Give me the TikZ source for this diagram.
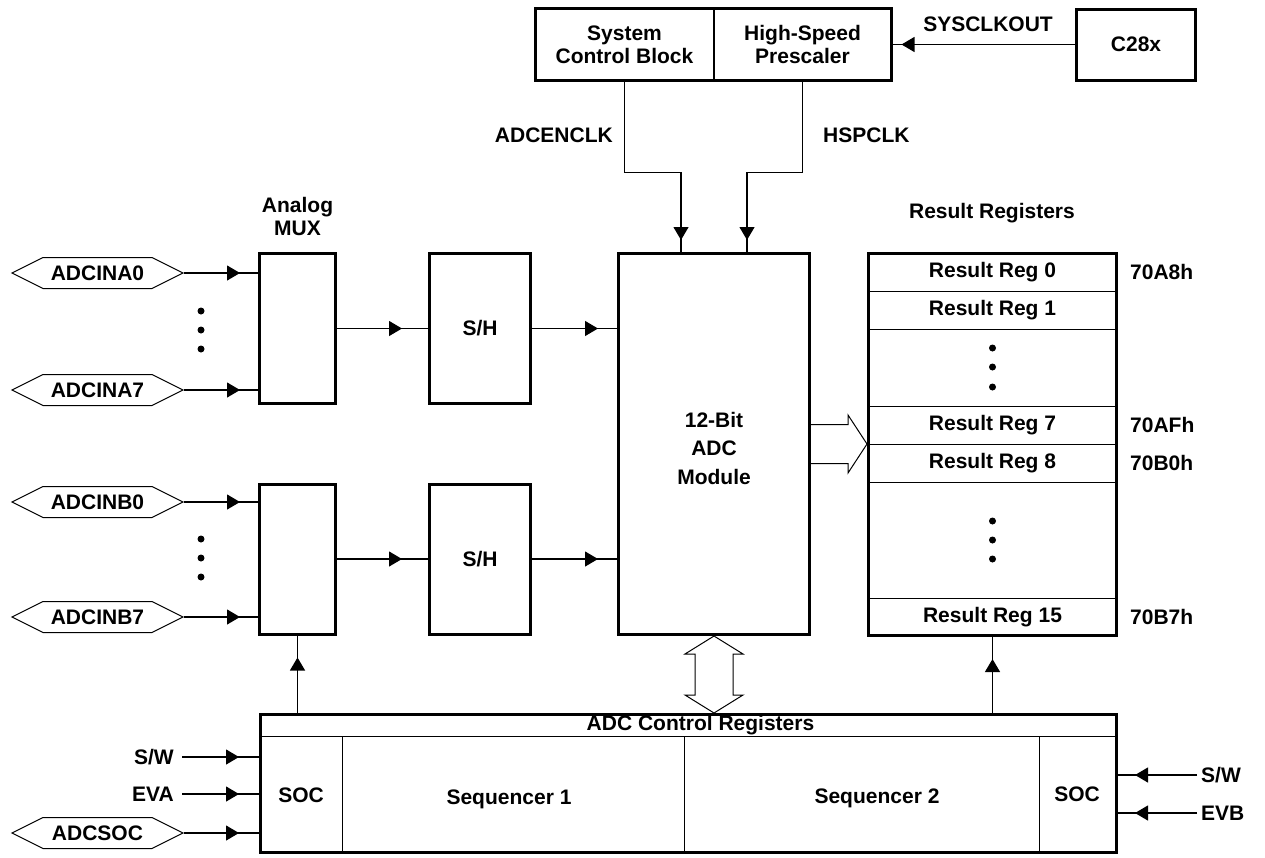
\documentclass[tikz,border=0pt]{standalone}
\usepackage{fontspec}
\setmainfont{Liberation Sans}
\usepackage{tikz}
\usetikzlibrary{positioning, calc, arrows.meta, shapes.symbols, decorations.markings}

\begin{document}
\begin{tikzpicture}[x=1pt, y=1pt,
		every node/.style={font=\fontsize{21}{23}\selectfont\bfseries},
		box/.style={draw, line width=3pt, inner sep=0pt},
		cell/.style={draw, line width=1pt, inner sep=0pt},
		hexpin/.style={draw, line width=1pt, signal, signal to=west and east, signal pointer angle=53, minimum width=171pt, minimum height=31pt, inner sep=0pt},
		lbl/.style={inner sep=4pt},
		wire/.style={line width=1.2pt},
		sig/.style={wire, postaction={decorate}, decoration={markings, mark=at position #1 with {\arrow{Triangle[length=13pt,width=15pt]}}}},
		sig/.default=-18pt,
		fat/.style={line width=1pt, line join=miter}]
		\useasboundingbox (0,0) rectangle (1265,-857);

		% clock path
		\node[cell, minimum width=177pt, minimum height=71pt, align=center] (sys) at (624.5,-44.5) {System\\Control Block};
		\node[cell, minimum width=177pt, minimum height=71pt, align=center, right=0pt of sys] (hsp) {High-Speed\\Prescaler};
		\draw[line width=3pt] (sys.north west) rectangle (hsp.south east);
		\node[box, minimum width=119pt, minimum height=71pt] (c28) at (1136,-44.5) {C28x};
		\node[lbl] (sysclk) at (988,-24) {SYSCLKOUT};
		\draw[sig=-10pt] (c28.west) -- (c28.west -| hsp.east);

		% conversion path
		\node[box, minimum width=76pt, minimum height=150pt] (muxa) at (297.5,-328.5) {};
		\node[box, minimum width=76pt, minimum height=150pt] (muxb) at (297.5,-559) {};
		\node[lbl, align=center] (muxlbl) at (297.5,-216.4) {Analog\\MUX};
		\node[box, minimum width=101pt, minimum height=150pt] (sha) at (480,-328.5) {S/H};
		\node[box, minimum width=101pt, minimum height=150pt] (shb) at (480,-559) {S/H};
		\node[box, minimum width=191pt, minimum height=381pt] (adc) at (714,-444) {};
		\node[lbl, align=center] (adctxt) at ($(adc.center)+(0,-4)$) {12-Bit\\[5.5pt]ADC\\[5.5pt]Module};

		\node[lbl, anchor=east] (encl) at (617,-135) {ADCENCLK};
		\node[lbl, anchor=west] (hspcl) at (819,-135) {HSPCLK};
		\draw[sig=-12pt] (sys.south) -- ++(0,-92) -| ($(adc.north)+(-33,0)$);
		\draw[sig=-12pt] (hsp.south) -- ++(0,-92) -| ($(adc.north)+(33,0)$);

		% analog inputs
		\node[hexpin] (ina0) at (97.5,-273) {ADCINA0};
		\node[hexpin] (ina7) at (97.5,-390) {ADCINA7};
		\node[hexpin] (inb0) at (97.5,-502) {ADCINB0};
		\node[hexpin] (inb7) at (97.5,-617) {ADCINB7};
		\foreach \y in {311,330,349,539,558,577}
			\fill (201,-\y) circle (3.5pt);
		\foreach \p/\m in {ina0/muxa, ina7/muxa, inb0/muxb, inb7/muxb}
			\draw[sig] (\p.east) -- (\p.east -| \m.west);

		\draw[sig=-26pt] (muxa.east) -- (sha.west);
		\draw[sig=-26pt] (muxb.east) -- (shb.west);
		\draw[sig=-19pt] (sha.east) -- (sha.east -| adc.west);
		\draw[sig=-19pt] (shb.east) -- (shb.east -| adc.west);

		% result registers
		\node[box, minimum width=248pt, minimum height=382pt] (res) at (992.5,-444.5) {};
		\node[lbl] (restitle) at (992,-213) {Result Registers};
		\foreach \y in {291,329,406,444,482,598}
			\draw[line width=1pt] (res.west |- 0,-\y) -- (res.east |- 0,-\y);
		\foreach \n/\y in {0/272,1/310,7/425,8/463,15/617}
			\node[lbl] (reg\n) at (res.center |- 0,-\y) {Result Reg \n};
		\foreach \y in {348,367,387,521,540,559}
			\fill (res.center |- 0,-\y) circle (3.5pt);
		\foreach \n/\t/\y in {a/70A8h/272, b/70AFh/425, c/70B0h/463, d/70B7h/617}
			\node[lbl, anchor=west] (addr\n) at (1126,-\y) {\t};

		\draw[fat] ($(adc.east)+(0,19.5)$) -- ($(res.west |- adc.east)+(-19,19.5)$) -- ++(0,9.5) -- (res.west |- adc.east) -- ++(-19,-29) -- ++(0,9.5) -- ($(adc.east)+(0,-19.5)$);

		% control registers
		\node[box, minimum width=856pt, minimum height=138pt] (ctrl) at (688.5,-783.5) {};
		\node[lbl] (ctitle) at (700.5,-725) {ADC Control Registers};
		\draw[line width=1pt] (ctrl.west |- 0,-736) -- (ctrl.east |- 0,-736);
		\foreach \x in {342,684,1039}
			\draw[line width=1pt] (\x,-736) -- (\x,-736 |- ctrl.south);
		\node[lbl] (soca) at (301,-795) {SOC};
		\node[lbl] (seqa) at (509,-799) {Sequencer 1};
		\node[lbl] (seqb) at (877,-798) {Sequencer 2};
		\node[lbl] (socb) at (1077,-794) {SOC};

		\draw[fat] (adc.south) -- ++(29,-18) -- ++(-10,0) -- ($(adc.south |- ctrl.north)+(19,18)$) -- ++(10,0) -- (adc.south |- ctrl.north) -- ++(-29,18) -- ++(10,0) -- ($(adc.south)+(-19,-18)$) -- ++(-10,0) -- cycle;
		\draw[sig=-22pt] (muxb.south |- ctrl.north) -- (muxb.south);
		\draw[sig=-22pt] (res.south |- ctrl.north) -- (res.south);

		% start of conversion inputs
		\node[lbl, anchor=east] (swa) at (178,-757) {S/W};
		\node[lbl, anchor=east] (eva) at (178,-794) {EVA};
		\node[hexpin] (socin) at (97.5,-833) {ADCSOC};
		\foreach \p in {swa, eva}
			\draw[sig=-20pt] ($(\p.east)+(4,0)$) -- (\p.east -| ctrl.west);
		\draw[sig=-20pt] (socin.east) -- (socin.east -| ctrl.west);
		\node[lbl, anchor=west] (swb) at (1197,-775) {S/W};
		\node[lbl, anchor=west] (evb) at (1197,-813) {EVB};
		\foreach \p in {swb, evb}
			\draw[sig=-17pt] (\p.west) -- (\p.west -| ctrl.east);
	\end{tikzpicture}
\end{document}
